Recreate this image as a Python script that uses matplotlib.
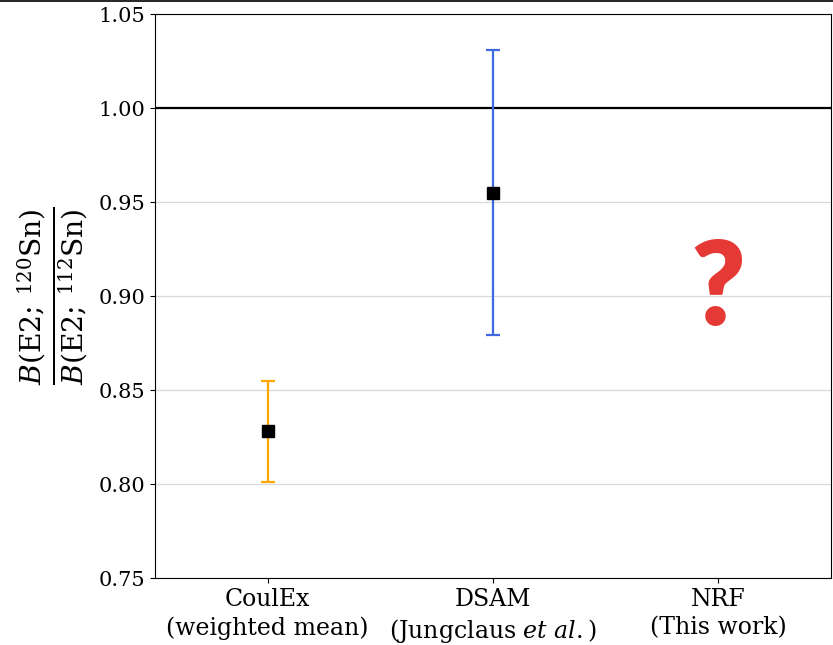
import matplotlib
matplotlib.use("Agg")
import matplotlib.pyplot as plt
from matplotlib.lines import Line2D

plt.rcParams["font.family"] = "DejaVu Serif"
plt.rcParams["mathtext.fontset"] = "dejavuserif"

# B(E2) ratio 120Sn / 112Sn from the different methods
methods = ["CoulEx\n(weighted mean)", "DSAM\n(Jungclaus $et\\ al.$)", "NRF\n(This work)"]
ratios = [0.828, 0.955]
errors = [0.027, 0.076]
err_colors = ["orange", "royalblue"]
reference = 1.0

fig = plt.figure(figsize=(8.33, 6.45), dpi=100)
ax = fig.add_axes([155 / 833, 67 / 645, 676 / 833, 564 / 645])

ax.set_axisbelow(True)
ax.grid(axis="y", color="#d9d9d9", lw=0.9)
ax.axhline(reference, color="black", lw=1.6)

for i, (r, e, c) in enumerate(zip(ratios, errors, err_colors)):
    ax.errorbar(i, r, yerr=e, fmt="none", ecolor=c, elinewidth=1.6,
                capsize=5, capthick=1.6, zorder=3)
    ax.plot(i, r, "s", color="black", ms=8, zorder=4)

# pending measurement
ax.text(2, 0.903, "?", ha="center", va="center", color="#e53935",
        fontsize=84, fontweight="heavy", family="Lato")

ax.set_xlim(-0.5, 2.5)
ax.set_ylim(0.75, 1.05)
ax.set_yticks([0.75, 0.80, 0.85, 0.90, 0.95, 1.00, 1.05])
ax.set_xticks(range(len(methods)))
ax.set_xticklabels(methods, fontsize=17, linespacing=1.3)
ax.tick_params(axis="y", labelsize=15)
ax.set_ylabel(r"$\frac{B(\mathrm{E2};\,^{120}\mathrm{Sn})}{B(\mathrm{E2};\,^{112}\mathrm{Sn})}$",
              fontsize=29, labelpad=6)

fig.add_artist(Line2D([0, 1], [0.999, 0.999], transform=fig.transFigure,
                      color="black", lw=1.2))

fig.savefig("out.png", dpi=100)
